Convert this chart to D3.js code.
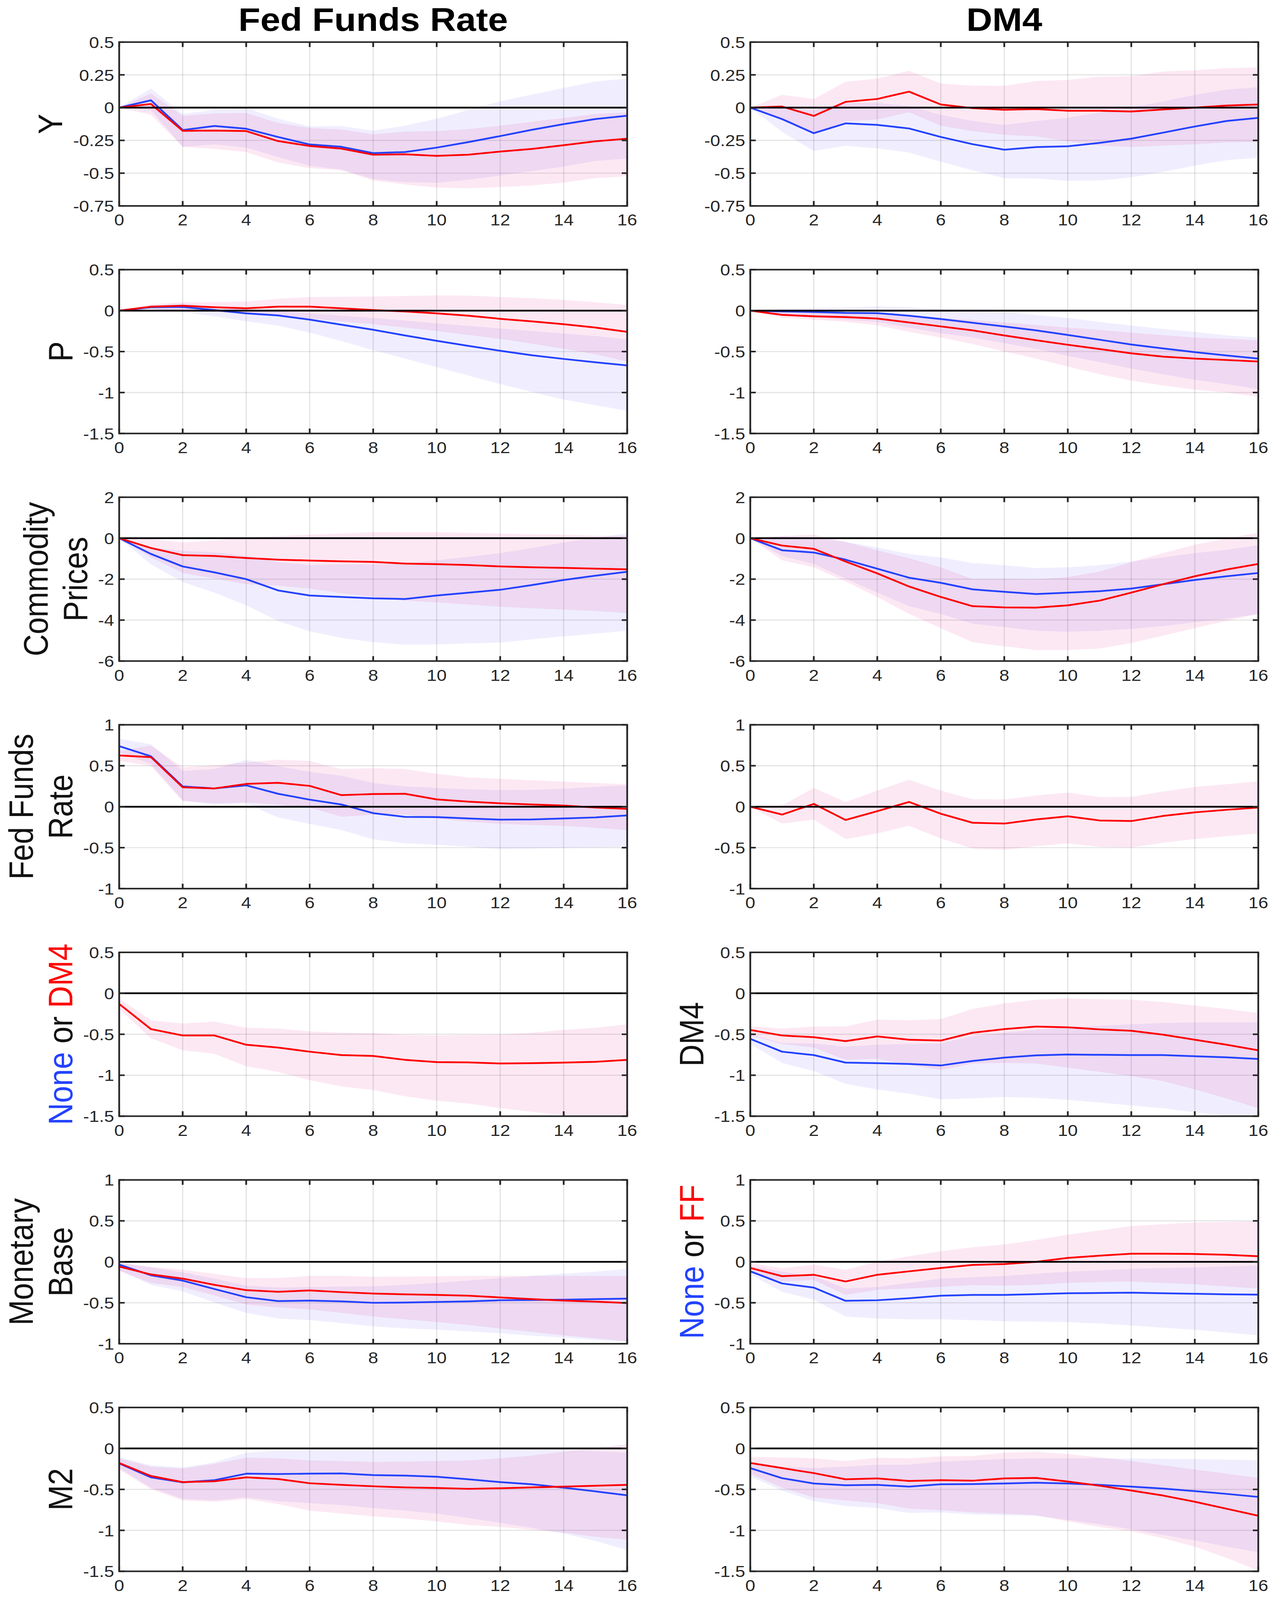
<!DOCTYPE html>
<html><head><meta charset="utf-8">
<script src="https://cdn.jsdelivr.net/npm/d3@7/dist/d3.min.js"></script>
<style>html,body{margin:0;padding:0;background:#fff;overflow:hidden}svg{display:block}</style>
</head><body>
<svg id="chart" viewBox="0 0 3250 4561" preserveAspectRatio="none" xmlns="http://www.w3.org/2000/svg"></svg>
<script>
// ---------------- DATA ----------------
const horizons = [0,1,2,3,4,5,6,7,8,9,10,11,12,13,14,15,16];
const xTicks = [0,2,4,6,8,10,12,14,16];
const columnTitles = ["Fed Funds Rate", "DM4"];

const yTicksY   = [-0.75,-0.5,-0.25,0,0.25,0.5];
const yTicksP   = [-1.5,-1,-0.5,0,0.5];
const yTicksCP  = [-6,-4,-2,0,2];
const yTicksFF  = [-1,-0.5,0,0.5,1];
const yTicksDM4 = [-1.5,-1,-0.5,0,0.5];
const yTicksMB  = [-1,-0.5,0,0.5,1];
const yTicksM2  = [-1.5,-1,-0.5,0,0.5];

// Left column (Fed Funds Rate shock): blue = None, red = DM4
const L1_blue   = [0,0.056,-0.171,-0.14,-0.161,-0.224,-0.281,-0.299,-0.347,-0.339,-0.305,-0.263,-0.217,-0.169,-0.126,-0.087,-0.062];
const L1_blueHi = [0,0.146,-0.048,-0.018,-0.004,-0.084,-0.144,-0.141,-0.176,-0.138,-0.084,-0.018,0.048,0.10,0.15,0.2,0.221];
const L1_blueLo = [0,-0.02,-0.299,-0.281,-0.305,-0.377,-0.443,-0.472,-0.544,-0.568,-0.574,-0.55,-0.518,-0.484,-0.449,-0.407,-0.389];
const L1_red    = [0,0.028,-0.177,-0.175,-0.179,-0.255,-0.293,-0.313,-0.359,-0.356,-0.368,-0.359,-0.335,-0.315,-0.287,-0.257,-0.237];
const L1_redHi  = [0,0.108,-0.063,-0.044,-0.042,-0.116,-0.156,-0.167,-0.203,-0.183,-0.179,-0.164,-0.138,-0.108,-0.078,-0.048,-0.036];
const L1_redLo  = [0,-0.054,-0.299,-0.315,-0.339,-0.419,-0.461,-0.478,-0.556,-0.586,-0.61,-0.616,-0.606,-0.594,-0.572,-0.538,-0.523];

const L2_blue   = [0,0.041,0.045,0.007,-0.034,-0.059,-0.11,-0.172,-0.234,-0.303,-0.369,-0.431,-0.49,-0.545,-0.59,-0.631,-0.669];
const L2_blueHi = [0,0.062,0.086,0.05,0.017,-0.007,-0.034,-0.062,-0.09,-0.121,-0.155,-0.186,-0.217,-0.248,-0.279,-0.31,-0.352];
const L2_blueLo = [0,0.017,-0.017,-0.069,-0.131,-0.183,-0.269,-0.372,-0.483,-0.586,-0.69,-0.793,-0.897,-0.993,-1.086,-1.155,-1.224];
const L2_red    = [0,0.048,0.059,0.041,0.028,0.048,0.048,0.028,0.007,-0.01,-0.034,-0.062,-0.1,-0.131,-0.166,-0.207,-0.259];
const L2_redHi  = [0,0.076,0.103,0.103,0.11,0.145,0.166,0.169,0.172,0.179,0.186,0.183,0.166,0.152,0.131,0.103,0.069];
const L2_redLo  = [0,0.017,0,-0.017,-0.041,-0.069,-0.097,-0.131,-0.166,-0.207,-0.248,-0.297,-0.345,-0.403,-0.466,-0.534,-0.621];

const L3_blue   = [0,-0.77,-1.38,-1.67,-2.0,-2.55,-2.8,-2.87,-2.94,-2.97,-2.8,-2.66,-2.52,-2.29,-2.04,-1.83,-1.64];
const L3_blueHi = [0,-0.45,-0.62,-0.69,-0.87,-1.17,-1.31,-1.28,-1.28,-1.24,-1.08,-0.91,-0.73,-0.48,-0.21,0.03,0.23];
const L3_blueLo = [0,-1.28,-2.14,-2.66,-3.28,-4.04,-4.55,-4.87,-5.08,-5.21,-5.19,-5.14,-5.1,-4.94,-4.8,-4.66,-4.52];
const L3_red    = [0,-0.48,-0.83,-0.87,-0.97,-1.05,-1.09,-1.13,-1.16,-1.24,-1.27,-1.31,-1.38,-1.42,-1.45,-1.49,-1.52];
const L3_redHi  = [0,-0.04,-0.21,-0.11,0.03,0.1,0.17,0.23,0.3,0.29,0.29,0.26,0.23,0.19,0.17,0.12,0.1];
const L3_redLo  = [0,-0.94,-1.7,-1.97,-2.25,-2.32,-2.46,-2.69,-2.87,-3.05,-3.14,-3.24,-3.35,-3.42,-3.49,-3.56,-3.66];

const L4_blue   = [0.739,0.615,0.247,0.223,0.261,0.158,0.086,0.027,-0.079,-0.124,-0.127,-0.144,-0.158,-0.155,-0.144,-0.131,-0.107];
const L4_blueHi = [0.832,0.763,0.436,0.46,0.574,0.495,0.426,0.378,0.289,0.247,0.23,0.213,0.203,0.206,0.22,0.241,0.261];
const L4_blueLo = [0.66,0.522,0.076,0.024,0.041,-0.131,-0.21,-0.285,-0.399,-0.447,-0.464,-0.491,-0.515,-0.509,-0.502,-0.498,-0.491];
const L4_red    = [0.625,0.605,0.237,0.223,0.278,0.292,0.254,0.141,0.155,0.158,0.089,0.062,0.041,0.027,0.014,-0.01,-0.027];
const L4_redHi  = [0.68,0.746,0.481,0.505,0.54,0.574,0.557,0.46,0.471,0.46,0.402,0.357,0.34,0.323,0.306,0.289,0.275];
const L4_redLo  = [0.56,0.495,0.069,0.041,0.052,0.024,-0.01,-0.124,-0.096,-0.096,-0.148,-0.182,-0.21,-0.223,-0.234,-0.258,-0.285];

const L5_red    = [-0.13,-0.437,-0.515,-0.515,-0.628,-0.662,-0.713,-0.754,-0.765,-0.812,-0.84,-0.843,-0.857,-0.853,-0.846,-0.836,-0.812];
const L5_redHi  = [-0.061,-0.328,-0.369,-0.345,-0.42,-0.43,-0.464,-0.481,-0.485,-0.509,-0.515,-0.509,-0.505,-0.481,-0.447,-0.42,-0.379];
const L5_redLo  = [-0.191,-0.549,-0.696,-0.737,-0.891,-0.959,-1.061,-1.137,-1.181,-1.256,-1.311,-1.345,-1.403,-1.447,-1.488,-1.515,-1.556];

const L6_blue   = [-0.034,-0.164,-0.229,-0.332,-0.432,-0.479,-0.473,-0.483,-0.5,-0.497,-0.49,-0.483,-0.469,-0.466,-0.462,-0.455,-0.449];
const L6_blueHi = [-0.007,-0.068,-0.13,-0.205,-0.291,-0.315,-0.308,-0.301,-0.298,-0.281,-0.257,-0.229,-0.199,-0.171,-0.144,-0.12,-0.086];
const L6_blueLo = [-0.103,-0.281,-0.36,-0.497,-0.623,-0.692,-0.712,-0.747,-0.788,-0.812,-0.829,-0.849,-0.873,-0.901,-0.925,-0.952,-0.976];
const L6_red    = [-0.058,-0.154,-0.205,-0.281,-0.346,-0.366,-0.349,-0.37,-0.387,-0.397,-0.404,-0.414,-0.435,-0.455,-0.473,-0.486,-0.503];
const L6_redHi  = [-0.017,-0.062,-0.096,-0.147,-0.199,-0.199,-0.171,-0.171,-0.182,-0.18,-0.175,-0.171,-0.171,-0.171,-0.171,-0.173,-0.175];
const L6_redLo  = [-0.11,-0.257,-0.308,-0.411,-0.521,-0.555,-0.582,-0.623,-0.668,-0.702,-0.736,-0.771,-0.815,-0.856,-0.897,-0.935,-0.969];

const L7_blue   = [-0.182,-0.353,-0.414,-0.387,-0.308,-0.312,-0.308,-0.305,-0.325,-0.332,-0.346,-0.377,-0.411,-0.438,-0.479,-0.524,-0.572];
const L7_blueHi = [-0.11,-0.205,-0.233,-0.171,-0.051,-0.027,-0.017,-0.017,-0.017,-0.017,-0.017,-0.01,-0.007,-0.007,-0.01,-0.034,-0.051];
const L7_blueLo = [-0.24,-0.479,-0.616,-0.634,-0.599,-0.644,-0.668,-0.692,-0.729,-0.76,-0.795,-0.849,-0.908,-0.969,-1.038,-1.13,-1.24];
const L7_red    = [-0.178,-0.336,-0.411,-0.401,-0.353,-0.373,-0.425,-0.445,-0.462,-0.476,-0.483,-0.493,-0.486,-0.476,-0.466,-0.455,-0.445];
const L7_redHi  = [-0.12,-0.223,-0.247,-0.188,-0.113,-0.12,-0.147,-0.154,-0.164,-0.161,-0.154,-0.147,-0.12,-0.086,-0.041,0.007,0.051];
const L7_redLo  = [-0.257,-0.497,-0.634,-0.651,-0.616,-0.678,-0.76,-0.795,-0.829,-0.856,-0.89,-0.935,-0.959,-0.993,-1.027,-1.079,-1.113];

// Right column (DM4 shock): blue = None, red = FF
const R1_blue   = [0,-0.087,-0.195,-0.12,-0.132,-0.159,-0.224,-0.279,-0.321,-0.301,-0.295,-0.269,-0.237,-0.191,-0.144,-0.102,-0.078];
const R1_blueHi = [0,0.0,-0.02,0.036,0.036,0.012,-0.054,-0.102,-0.132,-0.102,-0.078,-0.036,0,0.048,0.096,0.138,0.156];
const R1_blueLo = [0,-0.185,-0.331,-0.291,-0.311,-0.343,-0.413,-0.478,-0.538,-0.541,-0.559,-0.556,-0.532,-0.49,-0.443,-0.401,-0.383];
const R1_red    = [0,0.008,-0.063,0.044,0.066,0.122,0.024,-0.004,-0.016,-0.011,-0.024,-0.024,-0.03,-0.014,0,0.016,0.024];
const R1_redHi  = [0,0.098,0.066,0.197,0.221,0.281,0.185,0.167,0.166,0.203,0.212,0.236,0.24,0.275,0.285,0.301,0.307];
const R1_redLo  = [0,-0.1,-0.2,-0.105,-0.09,-0.036,-0.138,-0.18,-0.207,-0.22,-0.257,-0.29,-0.30,-0.29,-0.28,-0.265,-0.263];

const R2_blue   = [0,-0.01,-0.017,-0.028,-0.031,-0.062,-0.103,-0.148,-0.193,-0.241,-0.297,-0.355,-0.414,-0.462,-0.507,-0.548,-0.586];
const R2_blueHi = [0,0.021,0.034,0.038,0.052,0.041,0.017,0,-0.021,-0.052,-0.09,-0.138,-0.183,-0.224,-0.259,-0.303,-0.328];
const R2_blueLo = [0,-0.062,-0.086,-0.11,-0.138,-0.207,-0.276,-0.328,-0.397,-0.466,-0.552,-0.628,-0.707,-0.776,-0.845,-0.897,-0.959];
const R2_red    = [0,-0.052,-0.069,-0.079,-0.097,-0.145,-0.193,-0.241,-0.303,-0.362,-0.417,-0.469,-0.521,-0.562,-0.586,-0.603,-0.621];
const R2_redHi  = [0,-0.017,-0.028,-0.03,-0.034,-0.06,-0.086,-0.115,-0.145,-0.175,-0.207,-0.235,-0.269,-0.3,-0.328,-0.345,-0.362];
const R2_redLo  = [0,-0.086,-0.11,-0.138,-0.179,-0.259,-0.328,-0.407,-0.5,-0.586,-0.683,-0.776,-0.855,-0.914,-0.966,-1.0,-1.052];

const R3_blue   = [0,-0.59,-0.7,-1.05,-1.49,-1.93,-2.18,-2.5,-2.62,-2.73,-2.66,-2.59,-2.46,-2.25,-2.04,-1.86,-1.7];
const R3_blueHi = [0,0.1,0.03,-0.18,-0.46,-0.77,-0.94,-1.21,-1.32,-1.46,-1.42,-1.32,-1.14,-0.94,-0.73,-0.57,-0.34];
const R3_blueLo = [0,-0.87,-1.26,-1.97,-2.66,-3.32,-3.7,-4.18,-4.34,-4.52,-4.57,-4.52,-4.43,-4.29,-4.11,-3.93,-3.7];
const R3_red    = [0,-0.36,-0.52,-1.14,-1.72,-2.36,-2.87,-3.32,-3.38,-3.39,-3.28,-3.05,-2.66,-2.25,-1.86,-1.53,-1.26];
const R3_redHi  = [0,0.1,0.17,-0.18,-0.59,-0.98,-1.42,-2.0,-2.0,-2.01,-1.9,-1.63,-1.17,-0.73,-0.32,-0.01,0.26];
const R3_redLo  = [0,-1.08,-1.42,-2.11,-2.87,-3.7,-4.39,-5.08,-5.28,-5.46,-5.46,-5.39,-5.12,-4.76,-4.39,-4.04,-3.7];

const R4_red    = [0,-0.096,0.034,-0.162,-0.055,0.058,-0.086,-0.196,-0.206,-0.155,-0.117,-0.168,-0.175,-0.113,-0.069,-0.038,-0.01];
const R4_redHi  = [0,0.014,0.23,0.058,0.196,0.33,0.196,0.093,0.089,0.137,0.172,0.117,0.12,0.186,0.241,0.275,0.309];
const R4_redLo  = [0,-0.206,-0.158,-0.395,-0.326,-0.234,-0.388,-0.509,-0.526,-0.481,-0.447,-0.491,-0.498,-0.44,-0.395,-0.361,-0.326];

const R5_blue   = [-0.556,-0.713,-0.754,-0.846,-0.853,-0.863,-0.881,-0.826,-0.785,-0.758,-0.747,-0.751,-0.754,-0.754,-0.768,-0.782,-0.802];
const R5_blueHi = [-0.498,-0.608,-0.611,-0.652,-0.628,-0.618,-0.611,-0.522,-0.481,-0.447,-0.413,-0.396,-0.379,-0.362,-0.355,-0.355,-0.355];
const R5_blueLo = [-0.618,-0.85,-0.949,-1.106,-1.174,-1.225,-1.294,-1.283,-1.266,-1.276,-1.3,-1.334,-1.369,-1.403,-1.454,-1.495,-1.522];
const R5_red    = [-0.447,-0.515,-0.536,-0.584,-0.526,-0.567,-0.577,-0.481,-0.437,-0.406,-0.416,-0.44,-0.457,-0.505,-0.567,-0.628,-0.696];
const R5_redHi  = [-0.403,-0.43,-0.406,-0.403,-0.321,-0.328,-0.314,-0.191,-0.123,-0.078,-0.061,-0.072,-0.078,-0.106,-0.15,-0.191,-0.242];
const R5_redLo  = [-0.515,-0.618,-0.662,-0.812,-0.799,-0.874,-0.935,-0.857,-0.85,-0.857,-0.908,-0.959,-1.01,-1.072,-1.174,-1.283,-1.403];

const R6_blue   = [-0.116,-0.264,-0.315,-0.476,-0.469,-0.445,-0.414,-0.404,-0.404,-0.394,-0.384,-0.38,-0.377,-0.384,-0.39,-0.397,-0.401];
const R6_blueHi = [-0.05,-0.12,-0.171,-0.325,-0.308,-0.257,-0.205,-0.188,-0.171,-0.147,-0.12,-0.103,-0.086,-0.075,-0.068,-0.055,-0.045];
const R6_blueLo = [-0.154,-0.366,-0.462,-0.668,-0.692,-0.702,-0.702,-0.712,-0.726,-0.73,-0.736,-0.753,-0.777,-0.805,-0.829,-0.863,-0.897];
const R6_red    = [-0.075,-0.175,-0.158,-0.24,-0.158,-0.116,-0.075,-0.038,-0.027,0,0.048,0.075,0.099,0.099,0.096,0.086,0.068];
const R6_redHi  = [-0.017,-0.079,-0.034,-0.096,0,0.068,0.13,0.178,0.212,0.267,0.332,0.384,0.435,0.459,0.479,0.486,0.497];
const R6_redLo  = [-0.137,-0.24,-0.223,-0.404,-0.342,-0.325,-0.308,-0.284,-0.291,-0.281,-0.257,-0.247,-0.24,-0.257,-0.274,-0.301,-0.325];

const R7_blue   = [-0.24,-0.363,-0.428,-0.449,-0.445,-0.466,-0.438,-0.435,-0.428,-0.418,-0.428,-0.445,-0.466,-0.49,-0.521,-0.555,-0.592];
const R7_blueHi = [-0.171,-0.223,-0.24,-0.223,-0.199,-0.199,-0.161,-0.144,-0.13,-0.12,-0.12,-0.12,-0.123,-0.127,-0.13,-0.137,-0.144];
const R7_blueLo = [-0.342,-0.514,-0.644,-0.702,-0.729,-0.788,-0.781,-0.805,-0.815,-0.822,-0.873,-0.925,-0.986,-1.055,-1.123,-1.199,-1.267];
const R7_red    = [-0.178,-0.24,-0.301,-0.377,-0.366,-0.397,-0.387,-0.394,-0.366,-0.36,-0.404,-0.455,-0.514,-0.575,-0.651,-0.736,-0.822];
const R7_redHi  = [-0.103,-0.11,-0.12,-0.154,-0.113,-0.12,-0.096,-0.092,-0.051,-0.041,-0.068,-0.11,-0.154,-0.205,-0.257,-0.308,-0.36];
const R7_redLo  = [-0.308,-0.479,-0.599,-0.634,-0.668,-0.736,-0.753,-0.781,-0.795,-0.815,-0.89,-0.959,-1.01,-1.096,-1.199,-1.336,-1.49];

// Row labels: lines of [text, colorKey] segments
const leftLabels = [
  [[["Y","k"]]],
  [[["P","k"]]],
  [[["Commodity","k"]],[["Prices","k"]]],
  [[["Fed Funds","k"]],[["Rate","k"]]],
  [[["None","b"],[" or ","k"],["DM4","r"]]],
  [[["Monetary","k"]],[["Base","k"]]],
  [[["M2","k"]]]
];
const rightLabels = [
  null, null, null, null,
  [[["DM4","k"]]],
  [[["None","b"],[" or ","k"],["FF","r"]]],
  null
];

// ---------------- STYLE / LAYOUT ----------------
const W = 3250, H = 4561;
const COLORS = {k:"#111111", b:"#2342ff", r:"#ff0000"};
const BLUE_LINE = "#2342ff", RED_LINE = "#ff0000";
const FONT = "'Liberation Sans', Arial, Helvetica, sans-serif";
const colLeft = [305, 1920];
const plotW = 1300, plotH = 467;
const rowTop0 = 120, rowStep = 648.7;
const LABEL_FS = 87, LABEL_LH = 101;

const rowTicks = [yTicksY, yTicksP, yTicksCP, yTicksFF, yTicksDM4, yTicksMB, yTicksM2];
const leftSeries = [
  [L1_blue,L1_blueLo,L1_blueHi,L1_red,L1_redLo,L1_redHi],
  [L2_blue,L2_blueLo,L2_blueHi,L2_red,L2_redLo,L2_redHi],
  [L3_blue,L3_blueLo,L3_blueHi,L3_red,L3_redLo,L3_redHi],
  [L4_blue,L4_blueLo,L4_blueHi,L4_red,L4_redLo,L4_redHi],
  [null,null,null,L5_red,L5_redLo,L5_redHi],
  [L6_blue,L6_blueLo,L6_blueHi,L6_red,L6_redLo,L6_redHi],
  [L7_blue,L7_blueLo,L7_blueHi,L7_red,L7_redLo,L7_redHi]
];
const rightSeries = [
  [R1_blue,R1_blueLo,R1_blueHi,R1_red,R1_redLo,R1_redHi],
  [R2_blue,R2_blueLo,R2_blueHi,R2_red,R2_redLo,R2_redHi],
  [R3_blue,R3_blueLo,R3_blueHi,R3_red,R3_redLo,R3_redHi],
  [null,null,null,R4_red,R4_redLo,R4_redHi],
  [R5_blue,R5_blueLo,R5_blueHi,R5_red,R5_redLo,R5_redHi],
  [R6_blue,R6_blueLo,R6_blueHi,R6_red,R6_redLo,R6_redHi],
  [R7_blue,R7_blueLo,R7_blueHi,R7_red,R7_redLo,R7_redHi]
];

// fill the photographed viewport exactly, mapping the 3250x4561 design onto it
const vw = window.innerWidth || W, vh = window.innerHeight || H;
const svg = d3.select("#chart").attr("width", vw).attr("height", vh);
svg.append("rect").attr("width",W).attr("height",H).attr("fill","#fff");
const defs = svg.append("defs");

// titles
columnTitles.forEach((t,c) => {
  svg.append("text").attr("x", colLeft[c] + plotW/2).attr("y", 88)
    .attr("text-anchor","middle").attr("font-family",FONT).attr("font-weight","bold")
    .attr("font-size",92).attr("fill","#000").text(t);
});

const fmt = v => String(v);
const TICK_FS = 46;

function drawPanel(c, r, series, label) {
  const x0 = colLeft[c], y0 = rowTop0 + r*rowStep;
  const ticks = rowTicks[r];
  const x = d3.scaleLinear().domain([0,16]).range([x0, x0+plotW]);
  const y = d3.scaleLinear().domain([d3.min(ticks), d3.max(ticks)]).range([y0+plotH, y0]);
  const g = svg.append("g");
  const clipId = `clip${c}_${r}`;
  defs.append("clipPath").attr("id", clipId).append("rect")
    .attr("x", x0).attr("y", y0).attr("width", plotW).attr("height", plotH);

  // grid
  const grid = g.append("g").attr("stroke","#262626").attr("stroke-opacity",0.13).attr("stroke-width",3);
  xTicks.forEach(t => grid.append("line").attr("x1",x(t)).attr("x2",x(t)).attr("y1",y0).attr("y2",y0+plotH));
  ticks.forEach(t => grid.append("line").attr("x1",x0).attr("x2",x0+plotW).attr("y1",y(t)).attr("y2",y(t)));

  const [bl, blo, bhi, rd, rlo, rhi] = series;
  const plot = g.append("g").attr("clip-path", `url(#${clipId})`);
  const area = (lo, hi) => d3.area().x((d,i)=>x(horizons[i])).y0((d,i)=>y(lo[i])).y1((d,i)=>y(hi[i]))(horizons);
  const line = (vals) => d3.line().x((d,i)=>x(horizons[i])).y((d,i)=>y(vals[i]))(horizons);
  if (bl) plot.append("path").attr("d", area(blo,bhi)).attr("fill","rgb(40,20,245)").attr("fill-opacity",0.07);
  if (rd) plot.append("path").attr("d", area(rlo,rhi)).attr("fill","rgb(225,25,140)").attr("fill-opacity",0.1);
  if (bl) plot.append("path").attr("d", line(bl)).attr("fill","none").attr("stroke",BLUE_LINE).attr("stroke-width",5).attr("stroke-linejoin","round");
  if (rd) plot.append("path").attr("d", line(rd)).attr("fill","none").attr("stroke",RED_LINE).attr("stroke-width",5).attr("stroke-linejoin","round");
  // zero line
  plot.append("line").attr("x1",x(0)).attr("x2",x(16)).attr("y1",y(0)).attr("y2",y(0))
    .attr("stroke","#000").attr("stroke-width",5);

  // frame & ticks
  const fr = g.append("g").attr("stroke","#262626").attr("stroke-width",4.5).attr("fill","none");
  const TL = 14;
  xTicks.forEach(t => {
    fr.append("line").attr("x1",x(t)).attr("x2",x(t)).attr("y1",y0+plotH).attr("y2",y0+plotH-TL);
    fr.append("line").attr("x1",x(t)).attr("x2",x(t)).attr("y1",y0).attr("y2",y0+TL);
  });
  ticks.forEach(t => {
    fr.append("line").attr("x1",x0).attr("x2",x0+TL).attr("y1",y(t)).attr("y2",y(t));
    fr.append("line").attr("x1",x0+plotW).attr("x2",x0+plotW-TL).attr("y1",y(t)).attr("y2",y(t));
  });
  fr.append("rect").attr("x",x0).attr("y",y0).attr("width",plotW).attr("height",plotH).attr("stroke-linejoin","miter");

  // tick labels
  const tl = g.append("g").attr("font-family",FONT).attr("font-size",TICK_FS).attr("fill","#262626");
  xTicks.forEach(t => tl.append("text").attr("x",x(t)).attr("y",y0+plotH+56).attr("text-anchor","middle").text(fmt(t)));
  let maxW = 0;
  ticks.forEach(t => {
    const tx = tl.append("text").attr("x",x0-13).attr("y",y(t)).attr("dy","0.36em").attr("text-anchor","end").text(fmt(t));
    maxW = Math.max(maxW, tx.node().getComputedTextLength());
  });

  // row label
  if (label) {
    const baseX = x0 - 13 - maxW - 28;
    const cy = y0 + plotH/2;
    const nLines = label.length;
    label.forEach((segs, li) => {
      const lx = baseX - (nLines-1-li)*LABEL_LH;
      const t = g.append("text").attr("transform", `translate(${lx},${cy}) rotate(-90)`)
        .attr("text-anchor","middle").attr("font-family",FONT).attr("font-size",LABEL_FS);
      segs.forEach(([s,ck]) => t.append("tspan").attr("fill",COLORS[ck]).attr("xml:space","preserve").text(s));
    });
  }
}

for (let r = 0; r < 7; r++) {
  drawPanel(0, r, leftSeries[r], leftLabels[r]);
  drawPanel(1, r, rightSeries[r], rightLabels[r]);
}
</script>
</body></html>
